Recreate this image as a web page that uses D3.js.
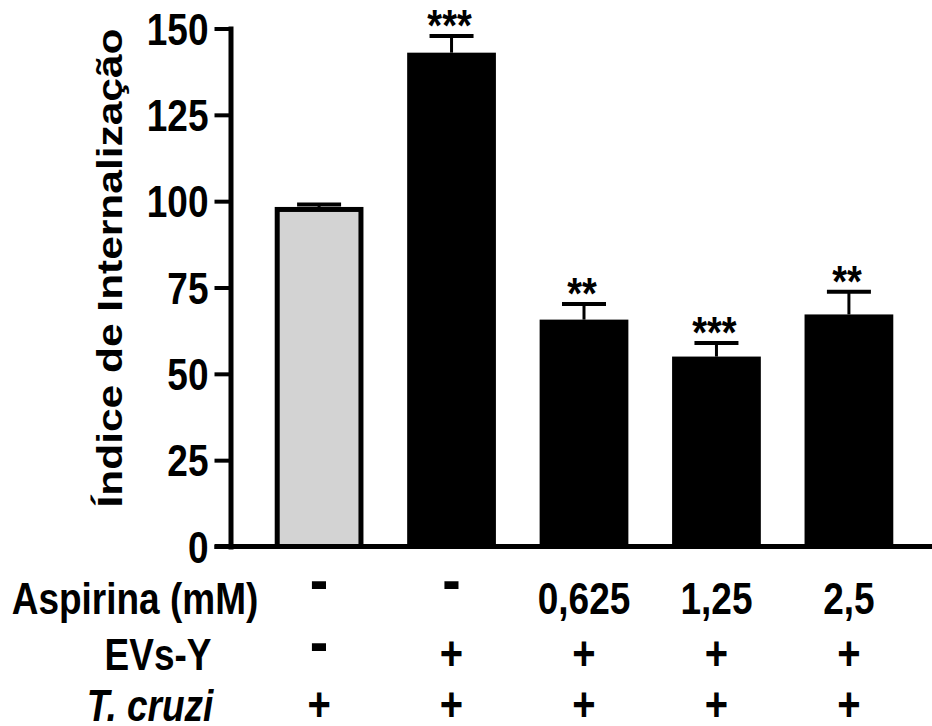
<!DOCTYPE html>
<html>
<head>
<meta charset="utf-8">
<script src="https://cdn.jsdelivr.net/npm/d3@7"></script>
<style>
  body { margin: 0; background: #fff; }
  svg { display: block; }
  text { font-family: "Liberation Sans", Arial, sans-serif; font-weight: bold; fill: #000; }
</style>
</head>
<body>
<svg id="chart" width="932" height="726"></svg>
<script>
// groups along the x axis
const groups = ["ctrl", "evs", "asp0625", "asp125", "asp25"];
// internalisation index, mean and SEM (upper bar only)
const means = [97.6, 143.0, 65.7, 55.0, 67.2];
const errs = [1.4, 4.8, 4.5, 3.9, 6.6];
const stars = ["", "***", "**", "***", "**"];
const yTicks = [0, 25, 50, 75, 100, 125, 150];

// treatment table under the axis
const rowNames = ["Aspirina (mM)", "EVs-Y", "T. cruzi"];
const aspirina = ["-", "-", "0,625", "1,25", "2,5"];
const evsY = ["-", "+", "+", "+", "+"];
const tCruzi = ["+", "+", "+", "+", "+"];

const W = 932, H = 726;
const K = 1.18; // text in the figure is stretched vertically

let svg = d3.select("#chart");

let y = d3.scaleLinear().domain([0, 150]).range([546.5, 28.5]);
let x = d3.scaleBand().domain(groups).range([231, 937]).paddingInner(0.33).paddingOuter(0.33);
let bw = x.bandwidth();
let barFill = d3.scaleOrdinal().domain(groups).range(["#d3d3d3", "#000", "#000", "#000", "#000"]);

let data = groups.map(function(g, i) {
    return {group: g, mean: means[i], err: errs[i], star: stars[i]};
});

// bars
svg.selectAll(".bar").data(data)
    .enter().append("rect")
    .attr("class", "bar")
    .attr("x", function(d, i) { return i == 0 ? x(d.group) + 2.5 : x(d.group); })
    .attr("width", function(d, i) { return i == 0 ? bw - 5 : bw; })
    .attr("y", function(d) { return y(d.mean); })
    .attr("height", function(d) { return y(0) - y(d.mean); })
    .style("fill", function(d) { return barFill(d.group); })
    .style("stroke", function(d, i) { return i == 0 ? "#000" : "none"; })
    .style("stroke-width", 5);

// error bars, upward only
let eb = svg.selectAll(".err").data(data).enter().append("g").attr("class", "err");
eb.append("line")
    .attr("x1", function(d) { return x(d.group) + bw / 2; })
    .attr("x2", function(d) { return x(d.group) + bw / 2; })
    .attr("y1", function(d) { return y(d.mean); })
    .attr("y2", function(d) { return y(d.mean + d.err); })
    .style("stroke", "#000").style("stroke-width", 3);
eb.append("line")
    .attr("x1", function(d) { return x(d.group) + bw / 2 - 22; })
    .attr("x2", function(d) { return x(d.group) + bw / 2 + 22; })
    .attr("y1", function(d) { return y(d.mean + d.err); })
    .attr("y2", function(d) { return y(d.mean + d.err); })
    .style("stroke", "#000").style("stroke-width", 4);

// significance stars
svg.selectAll(".star").data(data)
    .enter().append("text")
    .attr("class", "star")
    .attr("text-anchor", "middle")
    .style("font-size", "38px")
    .attr("transform", function(d) {
        return "translate(" + (x(d.group) + bw / 2 - 2) + "," + (y(d.mean + d.err) + 5) + ") scale(1," + K + ")";
    })
    .text(function(d) { return d.star; });

// y axis
let yAxis = d3.axisLeft(y).tickValues(yTicks).tickSize(16).tickSizeOuter(0);
let yg = svg.append("g").attr("transform", "translate(230.5,0)").call(yAxis);
yg.select(".domain").style("stroke-width", 5).style("stroke-linecap", "square");
yg.selectAll(".tick line").style("stroke-width", 4);
yg.selectAll(".tick text")
    .attr("x", null).attr("dy", null)
    .attr("transform", "translate(-22,15.5) scale(1," + K + ")")
    .style("font-size", "37px")
    .style("font-family", "'Liberation Sans', Arial, sans-serif");

// x axis line runs to the right edge
svg.append("line")
    .attr("x1", 214.5).attr("x2", W)
    .attr("y1", y(0)).attr("y2", y(0))
    .style("stroke", "#000").style("stroke-width", 5);

// y title
svg.append("text")
    .attr("text-anchor", "middle")
    .style("font-size", "36px")
    .attr("transform", "translate(122,268) scale(1," + K + ") rotate(-90)")
    .text("Índice de Internalização");

// treatment table
const rowY = [614, 670, 721];
const dashLift = [12, 6, 6];
const rowNameX = [135, 158, 150];
const rows = [aspirina, evsY, tCruzi];

rows.forEach(function(vals, r) {
    svg.append("text")
        .attr("text-anchor", "middle")
        .style("font-size", "37px")
        .style("font-style", r == 2 ? "italic" : "normal")
        .attr("transform", "translate(" + rowNameX[r] + "," + rowY[r] + ") scale(1," + K + ")")
        .text(rowNames[r]);

    svg.selectAll(".cell" + r).data(vals)
        .enter().append("text")
        .attr("class", "cell" + r)
        .attr("text-anchor", "middle")
        .style("font-size", function(d) { return d == "+" ? "40px" : "37px"; })
        .attr("transform", function(d, i) {
            let cx = x(groups[i]) + bw / 2;
            if (d == "-") {
                return "translate(" + cx + "," + (rowY[r] - dashLift[r]) + ") scale(1.5,1.75)";
            }
            return "translate(" + cx + "," + rowY[r] + ") scale(1," + K + ")";
        })
        .text(function(d) { return d; });
});
</script>
</body>
</html>
